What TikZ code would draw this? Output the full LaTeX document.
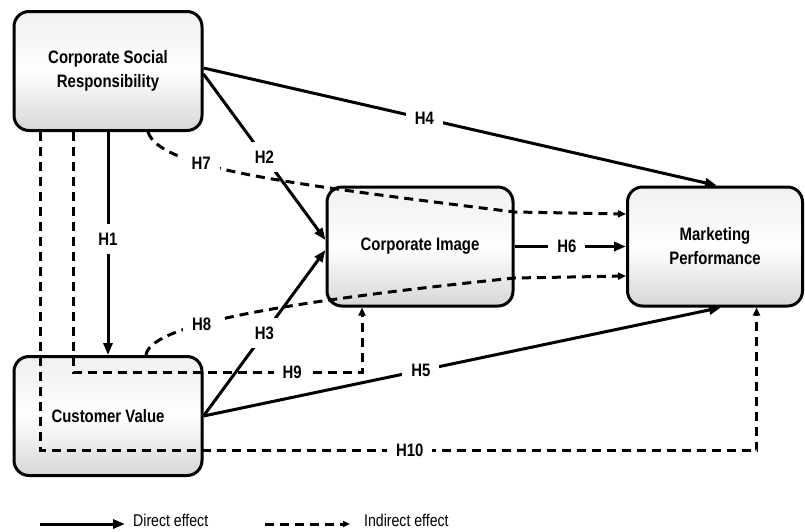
\documentclass[tikz,border=0pt]{standalone}
\usepackage{fontspec}
\setmainfont{Liberation Sans}[FakeStretch=0.83]
\usetikzlibrary{arrows.meta, calc}

\begin{document}
\begin{tikzpicture}[
        x=1pt, y=-1pt,
        construct/.style = {rectangle, draw, line width=3pt, rounded corners=15pt,
                            top color=gray!12, bottom color=gray!32, middle color=white,
                            align=center, font=\bfseries\fontsize{18}{24}\selectfont,
                            minimum height=119pt, inner sep=0pt},
        hyp/.style       = {fill=white, inner sep=9pt, font=\bfseries\fontsize{18}{20}\selectfont},
        line/.style      = {draw, line width=3pt, -{Triangle[length=12pt, width=9pt]}},
        indirect/.style  = {draw, line width=3pt, dash pattern=on 9pt off 6pt,
                            -{Triangle[length=8pt, width=7pt]}},
        legend/.style    = {anchor=west, inner sep=2pt, font=\fontsize{17}{20}\selectfont}
    ]
    \useasboundingbox (0,0) rectangle (805,531);

        % Konstrukte
        \node [construct, minimum width=188pt] (csr) at (108,71)    {Corporate Social\\Responsibility};
        \node [construct, minimum width=188pt] (cv)  at (108,416)   {Customer Value};
        \node [construct, minimum width=186pt] (ci)  at (420,246.5) {Corporate Image};
        \node [construct, minimum width=175pt] (mp)  at (715,246.5) {Marketing\\Performance};

        % indirekte Effekte
        \path [indirect] ($(csr.south)+(40,0)$) .. controls +(12,35) and +(-243,-30)
                 .. node[pos=0.36, hyp] {H7} ($(ci.east)+(0,-34.5)$) -- ($(mp.west)+(0,-32.5)$);
        \path [indirect] ($(cv.north)+(38,0)$) .. controls +(4,-27) and +(-263,27)
                 .. node[pos=0.4, hyp] {H8} ($(ci.east)+(0,31.5)$) -- ($(mp.west)+(0,29.5)$);
        \path [indirect] ($(csr.south)+(-35,0)$) |- node[pos=0.879, hyp] {H9}
                 ($(ci.south)+(-58,65)$) -- ($(ci.south)+(-58,0)$);
        \path [indirect] ($(csr.south)+(-68,0)$) |- node[pos=0.758, hyp] {H10}
                 ($(mp.south)+(41.5,143)$) -- ($(mp.south)+(41.5,0)$);

        % direkte Effekte
        \path [line] (csr) -- node[pos=0.48, hyp] {H1} (cv);
        \path [line] ($(csr.east)+(0,3)$)  -- node[pos=0.5, hyp]  {H2} ($(ci.west)+(0,-6.5)$);
        \path [line] (cv.east)             -- node[pos=0.5, hyp]  {H3} ($(ci.west)+(0,3.5)$);
        \path [line] ($(csr.east)+(0,-3)$) -- node[pos=0.43, hyp] {H4} ($(mp.north)+(2,0)$);
        \path [line] (cv.east)             -- node[pos=0.42, hyp] {H5} ($(mp.south)+(6,0)$);
        \path [line] (ci.east)             -- node[pos=0.47, hyp] {H6} (mp.west);

        % Legende
        \coordinate (dkey) at (40,524);
        \coordinate (ikey) at (265,524);
        \node [legend] (direct)   at (131,520) {Direct effect};
        \node [legend] (indirect) at (362,520) {Indirect effect};
        \path [line, shorten >=6pt] (dkey) -- (dkey -| direct.west);
        \path [indirect, -{Triangle[length=7pt, width=6pt]}, shorten >=12pt] (ikey) -- (ikey -| indirect.west);
\end{tikzpicture}
\end{document}
